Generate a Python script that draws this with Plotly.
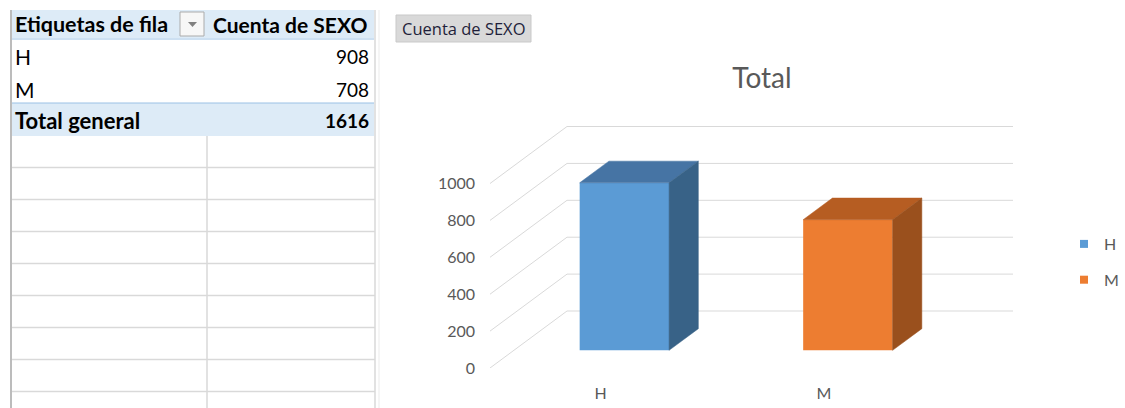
import plotly.graph_objects as go

# ---------------- data ----------------
CATEGORIES = ["H", "M"]
VALUES = [908, 708]
TOTAL_LABEL = "Total general"
TOTAL_VALUE = 1616
Y_TICKS = [0, 200, 400, 600, 800, 1000]
TABLE_HEADERS = ["Etiquetas de fila", "Cuenta de SEXO"]
CHART_TITLE = "Total"
FIELD_BUTTON = "Cuenta de SEXO"

FRONT_COLORS = ["#5B9BD5", "#ED7D31"]
TOP_COLORS = ["#4674A4", "#B65D22"]
SIDE_COLORS = ["#386287", "#9A501D"]

W, H = 1125, 408
def PX(p):
    return p / W
def PY(p):
    return 1 - p / H

# pseudo-3D geometry (axis units)
XMIN, XMAX = -0.4944, 1.8456
YMAX = 1344.2
DX, DY = 0.3445, 308.9          # full depth of the floor, in axis units
DF, DB = 0.31, 0.69             # bar front / back depth fractions
BW = 0.40                       # bar width

fig = go.Figure()

# bar front faces
for i, (c, v) in enumerate(zip(CATEGORIES, VALUES)):
    fig.add_trace(go.Bar(
        x=[i + DF * DX], y=[v], base=[DF * DY], width=[BW],
        marker=dict(color=FRONT_COLORS[i], line=dict(width=0)),
        name=c, showlegend=False, hoverinfo="skip"))

# top and side faces
ddx, ddy = (DB - DF) * DX, (DB - DF) * DY
for i, v in enumerate(VALUES):
    xc = i + DF * DX
    xl, xr = xc - BW / 2, xc + BW / 2
    b = DF * DY
    fig.add_trace(go.Scatter(
        x=[xl, xr, xr + ddx, xl + ddx, xl],
        y=[b + v, b + v, b + v + ddy, b + v + ddy, b + v],
        fill="toself", fillcolor=TOP_COLORS[i], mode="lines",
        line=dict(color=TOP_COLORS[i], width=0.5),
        showlegend=False, hoverinfo="skip"))
    fig.add_trace(go.Scatter(
        x=[xr, xr + ddx, xr + ddx, xr, xr],
        y=[b, b + ddy, b + v + ddy, b + v, b],
        fill="toself", fillcolor=SIDE_COLORS[i], mode="lines",
        line=dict(color=SIDE_COLORS[i], width=0.5),
        showlegend=False, hoverinfo="skip"))

# legend entries
for i, c in enumerate(CATEGORIES):
    fig.add_trace(go.Scatter(
        x=[None], y=[None], mode="markers", name=c,
        marker=dict(symbol="square", size=8, color=FRONT_COLORS[i]),
        legendgroup=c))

shapes = []
# walls gridlines
for v in Y_TICKS:
    shapes.append(dict(type="line", xref="x", yref="y", layer="below",
                       x0=XMIN, y0=v, x1=XMIN + DX, y1=v + DY,
                       line=dict(color="#D9D9D9", width=1)))
    shapes.append(dict(type="line", xref="x", yref="y", layer="below",
                       x0=XMIN + DX, y0=v + DY, x1=XMAX, y1=v + DY,
                       line=dict(color="#D9D9D9", width=1)))

# ---------------- pivot table (paper coords) ----------------
def rect(x0, y0, x1, y1, fill, line=None, lw=0):
    return dict(type="rect", xref="paper", yref="paper",
                x0=PX(x0), x1=PX(x1), y0=PY(y1), y1=PY(y0),
                fillcolor=fill, line=dict(color=line or fill, width=lw), layer="below")
def hline(y, x0, x1, color, w=1):
    return dict(type="line", xref="paper", yref="paper",
                x0=PX(x0), x1=PX(x1), y0=PY(y), y1=PY(y),
                line=dict(color=color, width=w), layer="below")
def vline(x, y0, y1, color, w=1):
    return dict(type="line", xref="paper", yref="paper",
                x0=PX(x), x1=PX(x), y0=PY(y0), y1=PY(y1),
                line=dict(color=color, width=w), layer="below")

shapes.append(rect(12, 10, 374, 38, "#DDEBF7"))
shapes.append(hline(39, 12, 374, "#9BC2E6", 1.2))
shapes.append(rect(12, 103, 374, 136, "#DDEBF7"))
shapes.append(hline(103, 12, 374, "#9BC2E6", 1.2))
for y in [167.5, 199.5, 231.5, 263.5, 295.5, 327.5, 359.5, 391.5]:
    shapes.append(hline(y, 12, 375, "#D9D9D9", 1.5))
shapes.append(vline(207, 136, 408, "#D9D9D9", 1.5))
shapes.append(vline(375, 10, 408, "#D9D9D9", 1.5))
shapes.append(vline(379, 10, 408, "#EBEBEB", 1))
shapes.append(vline(11, 10, 408, "#A6A6A6", 1.5))
# dropdown button
shapes.append(rect(180, 12, 204, 36, "#F7F7F7", "#ABABAB", 1))
shapes.append(dict(type="path", xref="paper", yref="paper",
                   path=f"M {PX(188)} {PY(22)} L {PX(197)} {PY(22)} L {PX(192.5)} {PY(27)} Z",
                   fillcolor="#808080", line=dict(width=0)))
# field button
shapes.append(rect(396, 15, 531, 42, "#D9D9D9", "#C9C9C9", 1))

ann = []
TF = "Lato"
def text(x, y, s, anchor="left", size=21, bold=False, color="#000000", fam=TF):
    ann.append(dict(xref="paper", yref="paper", x=PX(x), y=PY(y),
                    text=f"<b>{s}</b>" if bold else s, showarrow=False,
                    xanchor=anchor, yanchor="middle",
                    font=dict(family=fam, size=size, color=color)))

text(13, 24, TABLE_HEADERS[0], bold=True, size=21.5)
text(211, 24, TABLE_HEADERS[1], bold=True, size=21)
for i, (c, v) in enumerate(zip(CATEGORIES, VALUES)):
    yy = 57 + 32 * i
    text(13, yy, c)
    text(371, yy, str(v), anchor="right", size=19)
text(13, 120, TOTAL_LABEL, bold=True, size=22)
text(371, 120, str(TOTAL_VALUE), anchor="right", bold=True, size=19)
text(463.5, 29, FIELD_BUTTON, anchor="center", size=16.5, color="#1F1F3A", fam="Open Sans")

fig.update_layout(
    width=W, height=H,
    margin=dict(l=0, r=0, t=0, b=0, autoexpand=False),
    paper_bgcolor="white", plot_bgcolor="rgba(0,0,0,0)",
    barmode="overlay",
    showlegend=True,
    title=dict(text=CHART_TITLE, x=762 / W, xanchor="center", y=PY(78), yanchor="middle",
               font=dict(family="Lato", size=28, color="#595959")),
    legend=dict(x=PX(1064), xanchor="left", y=PY(227), yanchor="top",
                traceorder="grouped", tracegroupgap=12,
                font=dict(family="Lato", size=16, color="#595959"),
                bgcolor="rgba(0,0,0,0)"),
    xaxis=dict(domain=[PX(490), PX(1013)], range=[XMIN, XMAX],
               tickmode="array", tickvals=list(range(len(CATEGORIES))), ticktext=CATEGORIES,
               showgrid=False, zeroline=False, showline=False, ticks="",
               ticklabelstandoff=14,
               tickfont=dict(family="Lato", size=16, color="#595959")),
    yaxis=dict(domain=[1 - 368 / H, 1 - 120 / H], range=[0, YMAX],
               tickmode="array", tickvals=Y_TICKS,
               showgrid=False, zeroline=False, showline=False, ticks="",
               ticklabelstandoff=14,
               tickfont=dict(family="Lato", size=16, color="#595959")),
    shapes=shapes, annotations=ann,
)

fig.write_html("out.html", config={"displayModeBar": False},
               post_script="document.body.style.margin='0';document.body.style.overflow='hidden';")
